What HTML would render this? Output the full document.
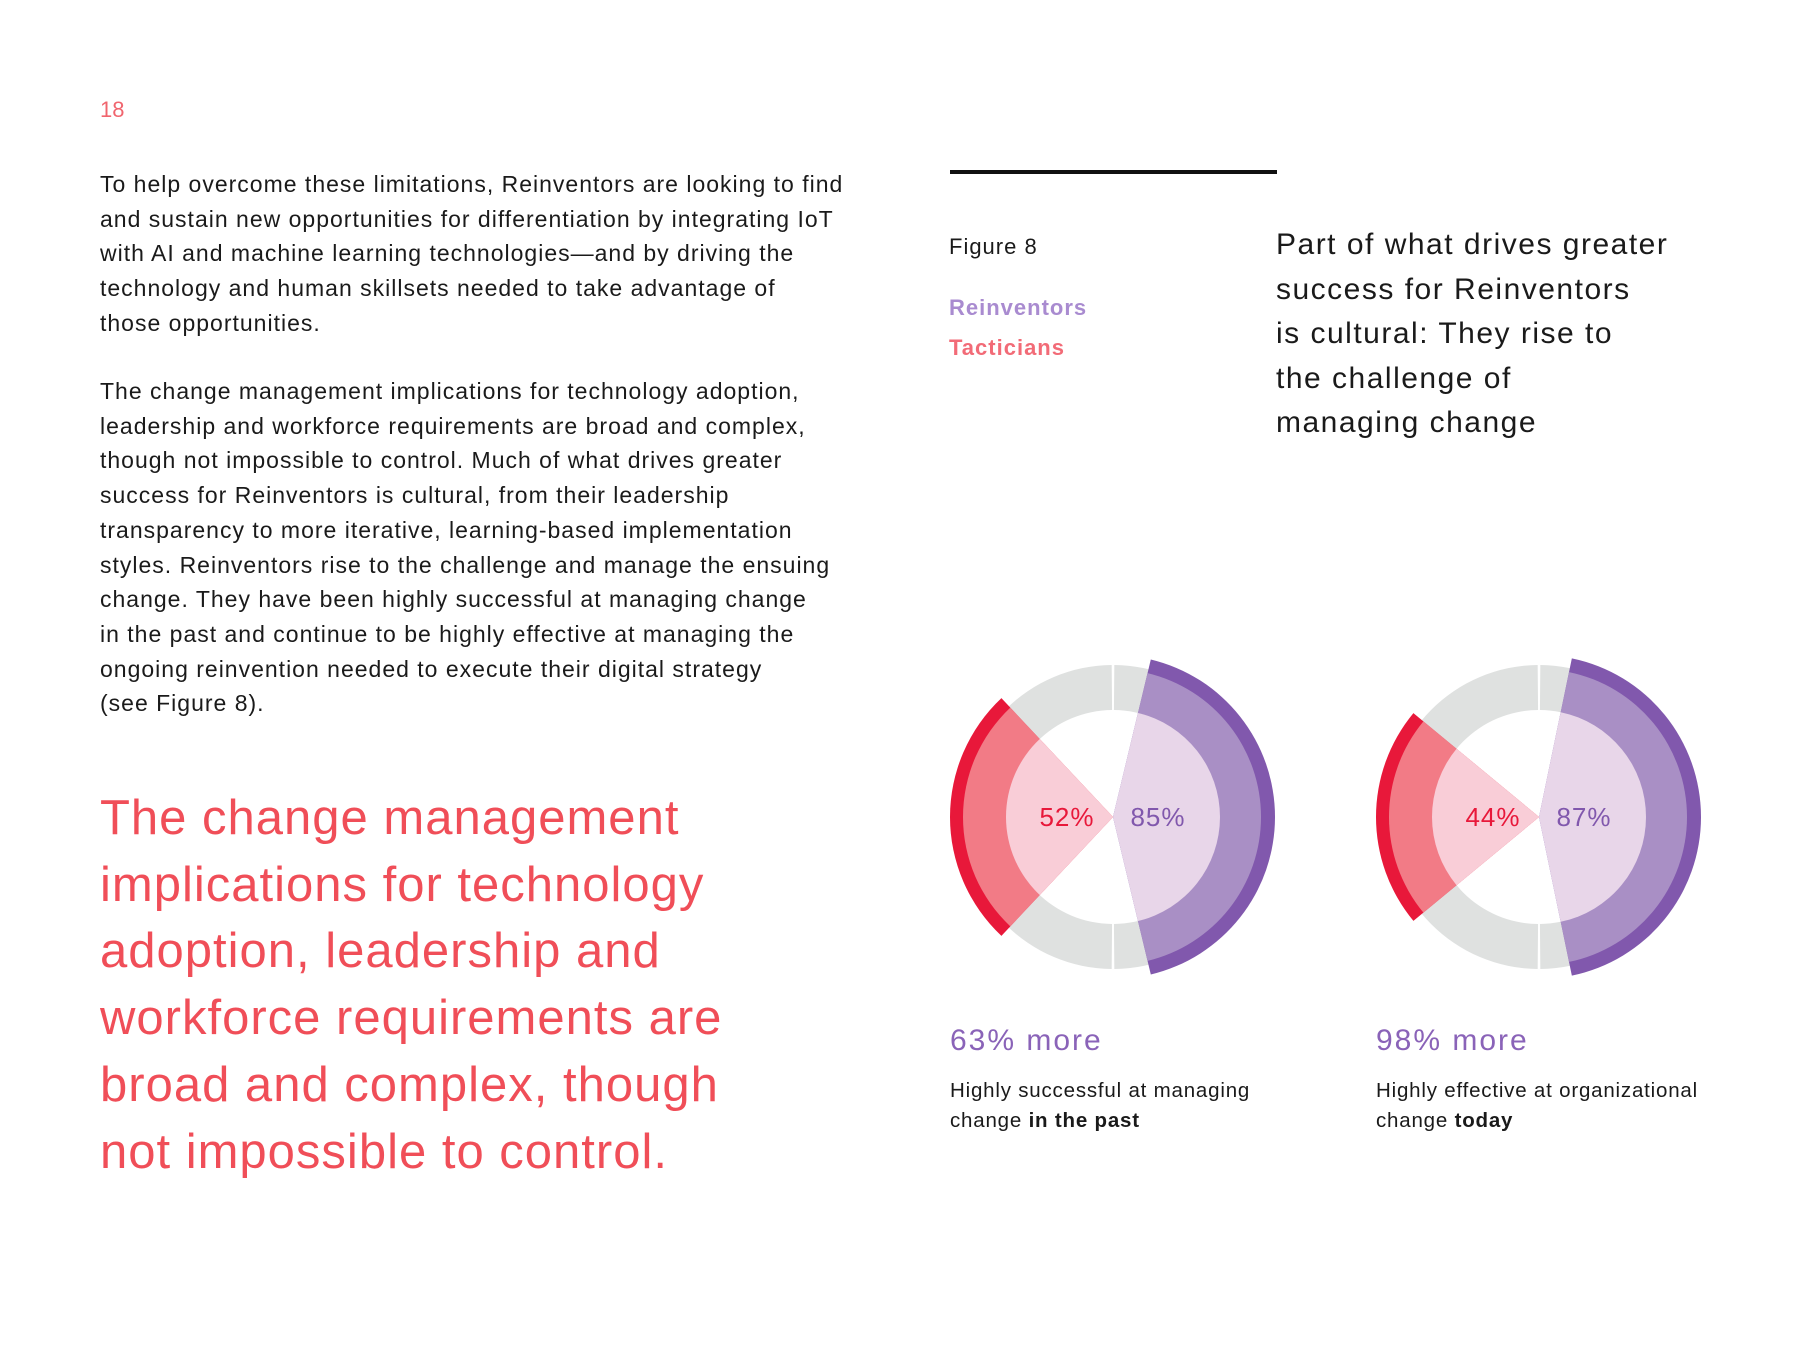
<!DOCTYPE html>
<html><head><meta charset="utf-8"><style>
body{margin:0;width:1800px;height:1350px;background:#fff;position:relative;overflow:hidden;font-family:"Liberation Sans",sans-serif;}
.t{position:absolute;white-space:nowrap;}
.body{font-size:23px;letter-spacing:1px;color:#1a1a1a;line-height:34.7px;}
.quote{font-size:49px;letter-spacing:1px;color:#f04e58;line-height:66.7px;}
.title{font-size:30px;letter-spacing:1.5px;color:#1a1a1a;line-height:44.5px;}
</style></head><body>
<div class="t" style="left:100px;top:97px;font-size:22px;color:#f0656e;">18</div>
<div class="t body" style="left:100px;top:167px;">To help overcome these limitations, Reinventors are looking to find<br>and sustain new opportunities for differentiation by integrating IoT<br>with AI and machine learning technologies—and by driving the<br>technology and human skillsets needed to take advantage of<br>those opportunities.</div>
<div class="t body" style="left:100px;top:374px;">The change management implications for technology adoption,<br>leadership and workforce requirements are broad and complex,<br>though not impossible to control. Much of what drives greater<br>success for Reinventors is cultural, from their leadership<br>transparency to more iterative, learning-based implementation<br>styles. Reinventors rise to the challenge and manage the ensuing<br>change. They have been highly successful at managing change<br>in the past and continue to be highly effective at managing the<br>ongoing reinvention needed to execute their digital strategy<br>(see Figure 8).</div>
<div class="t quote" style="left:100px;top:785px;">The change management<br>implications for technology<br>adoption, leadership and<br>workforce requirements are<br>broad and complex, though<br>not impossible to control.</div>
<div class="t" style="left:950px;top:170px;width:327px;height:4px;background:#111;"></div>
<div class="t" style="left:949px;top:234px;font-size:22px;letter-spacing:1px;color:#1a1a1a;">Figure 8</div>
<div class="t" style="left:949px;top:295px;font-size:22px;letter-spacing:1px;font-weight:bold;color:#a98bd0;">Reinventors</div>
<div class="t" style="left:949px;top:335px;font-size:22px;letter-spacing:1px;font-weight:bold;color:#f26b77;">Tacticians</div>
<div class="t title" style="left:1276px;top:223px;">Part of what drives greater<br>success for Reinventors<br>is cultural: They rise to<br>the challenge of<br>managing change</div>
<svg id="chart" width="1800" height="1350" style="position:absolute;left:0;top:0;"></svg>
<div class="t" style="left:950px;top:1024px;font-size:30px;letter-spacing:2px;color:#8a63b8;">63% more</div>
<div class="t" style="left:950px;top:1076px;font-size:20.5px;letter-spacing:0.8px;color:#1a1a1a;line-height:30px;">Highly successful at managing<br>change <b>in the past</b></div>
<div class="t" style="left:1376px;top:1024px;font-size:30px;letter-spacing:2px;color:#8a63b8;">98% more</div>
<div class="t" style="left:1376px;top:1076px;font-size:20.5px;letter-spacing:0.8px;color:#1a1a1a;line-height:30px;">Highly effective at organizational<br>change <b>today</b></div>
<script>
const chartNames = ["past", "today"];
const tacticians = [52, 44];
const reinventors = [85, 87];
const centersX = [1113, 1539];
const cy = 817;
const svg = document.getElementById('chart');
const NS = 'http://www.w3.org/2000/svg';
function pt(cx, r, deg) { const a = (deg - 90) * Math.PI / 180; return [cx + r * Math.cos(a), cy + r * Math.sin(a)]; }
function sector(cx, r0, r1, a0, a1) {
  const large = (a1 - a0) > 180 ? 1 : 0;
  const p1 = pt(cx, r1, a0), p2 = pt(cx, r1, a1);
  if (r0 === 0) return `M${cx},${cy}L${p1}A${r1},${r1} 0 ${large} 1 ${p2}Z`;
  const p3 = pt(cx, r0, a1), p4 = pt(cx, r0, a0);
  return `M${p1}A${r1},${r1} 0 ${large} 1 ${p2}L${p3}A${r0},${r0} 0 ${large} 0 ${p4}Z`;
}
function add(d, fill, name) {
  const p = document.createElementNS(NS, 'path');
  p.setAttribute('d', d); p.setAttribute('fill', fill);
  
  
  svg.appendChild(p);
}
function label(x, txt, color, name) {
  const t = document.createElementNS(NS, 'text');
  t.setAttribute('x', x); t.setAttribute('y', cy + 9);
  t.setAttribute('text-anchor', 'middle'); t.setAttribute('font-size', '26');
  t.setAttribute('font-family', 'Liberation Sans, sans-serif'); t.setAttribute('fill', color);
  t.setAttribute('letter-spacing', '1');
  t.textContent = txt;
  
  
  svg.appendChild(t);
}
chartNames.forEach((n, i) => {
  const cx = centersX[i];
  add(sector(cx, 107, 152, 0.5, 179.5), '#dfe1e0', 'gray-ring-right-' + n);
  add(sector(cx, 107, 152, 180.5, 359.5), '#dfe1e0', 'gray-ring-left-' + n);
  const h1 = reinventors[i] / 100 * 90;
  add(sector(cx, 0, 162, 90 - h1, 90 + h1), '#8158ad', 'reinventors-rim-' + n);
  add(sector(cx, 0, 148, 90 - h1, 90 + h1), '#a98fc5', 'reinventors-band-' + n);
  add(sector(cx, 0, 107, 90 - h1, 90 + h1), '#e8d6e9', 'reinventors-wedge-' + n);
  const h2 = tacticians[i] / 100 * 90;
  add(sector(cx, 0, 163, 270 - h2, 270 + h2), '#e8183a', 'tacticians-rim-' + n);
  add(sector(cx, 0, 150, 270 - h2, 270 + h2), '#f27b86', 'tacticians-band-' + n);
  add(sector(cx, 0, 107, 270 - h2, 270 + h2), '#f9cdd7', 'tacticians-wedge-' + n);
  label(cx - 46, tacticians[i] + '%', '#e8183a', 'tacticians-value-' + n);
  label(cx + 45, reinventors[i] + '%', '#8158ad', 'reinventors-value-' + n);
});
</script>
</body></html>
